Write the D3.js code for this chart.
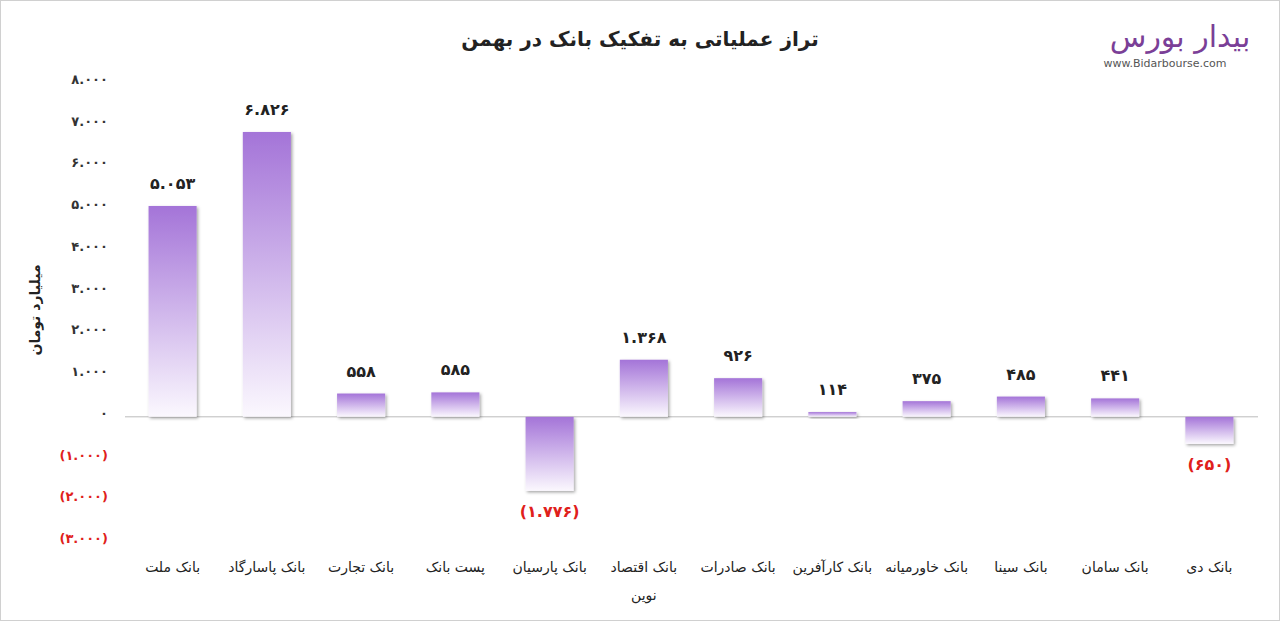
<!DOCTYPE html>
<html><head><meta charset="utf-8">
<script src="https://cdn.jsdelivr.net/npm/d3@7"></script>
<style>body{margin:0;background:#fff;font-family:"DejaVu Sans",sans-serif}</style>
</head><body><svg id="c" width="1280" height="621"></svg>
<script>
const categories = ["بانک ملت","بانک پاسارگاد","بانک تجارت","پست بانک","بانک پارسیان","بانک اقتصاد\nنوین","بانک صادرات","بانک کارآفرین","بانک خاورمیانه","بانک سینا","بانک سامان","بانک دی"];
const values = [5053,6826,558,585,-1776,1368,926,114,375,485,441,-650];
const yTicks = [8000,7000,6000,5000,4000,3000,2000,1000,0,-1000,-2000,-3000];

const fa = s => String(s).replace(/\d/g, d => "۰۱۲۳۴۵۶۷۸۹"[d]);
const fmt = v => { const s = fa(d3.format(",")(Math.abs(v)).replace(/,/g,".")); return v<0 ? "("+s+")" : s; };

const svg = d3.select("#c");
svg.append("rect").attr("x",0.5).attr("y",0.5).attr("width",1279).attr("height",620).attr("fill","#fff").attr("stroke","#d0d0d0");
const y = d3.scaleLinear().domain([-3000,8000]).range([542,83]);
const x = d3.scaleBand().domain(categories).range([125,1257]).paddingInner(0.49).paddingOuter(0.25);

const defs = svg.append("defs");
const g = defs.append("linearGradient").attr("id","gr").attr("x1",0).attr("y1",0).attr("x2",0).attr("y2",1);
g.append("stop").attr("offset","0%").attr("stop-color","#a474d8");
g.append("stop").attr("offset","100%").attr("stop-color","#fbf8fe");
const f = defs.append("filter").attr("id","sh").attr("x","-20%").attr("y","-20%").attr("width","150%").attr("height","150%");
f.append("feDropShadow").attr("dx",1.5).attr("dy",1.5).attr("stdDeviation",1.5).attr("flood-color","#000").attr("flood-opacity",0.35);

svg.append("text").attr("x",640).attr("y",46).attr("text-anchor","middle").attr("font-size",20).attr("font-weight","bold").attr("fill","#222").text("تراز عملیاتی به تفکیک بانک در بهمن");

svg.selectAll(".yt").data(yTicks).join("text").attr("x",108).attr("y",d=>y(d)+1).attr("text-anchor","end")
 .attr("font-size",13).attr("font-weight","bold").attr("fill",d=>d<0?"#e0201b":"#333").text(d=>fmt(d));

svg.append("line").attr("x1",125).attr("x2",1258).attr("y1",y(0)).attr("y2",y(0)).attr("stroke","#bbb");

svg.append("text").attr("transform","translate(40,310) rotate(-90)").attr("text-anchor","middle").attr("font-size",14).attr("font-weight","bold").attr("fill","#222").text("میلیارد تومان");

svg.selectAll(".bar").data(values).join("rect").attr("x",(d,i)=>x(categories[i])).attr("width",x.bandwidth())
 .attr("y",d=>y(Math.max(0,d))).attr("height",d=>Math.abs(y(d)-y(0))).attr("fill","url(#gr)").attr("filter","url(#sh)");

svg.selectAll(".vl").data(values).join("text").attr("x",(d,i)=>x(categories[i])+x.bandwidth()/2)
 .attr("y",d=>d>=0?y(d)-17:y(d)+26).attr("text-anchor","middle").attr("font-size",16).attr("font-weight","bold")
 .attr("fill",d=>d<0?"#e0201b":"#222").text(d=>fmt(d));

categories.forEach((c,i)=>{
  c.split("\n").forEach((ln,j)=>{
    svg.append("text").attr("x",x(c)+x.bandwidth()/2).attr("y",572+j*28).attr("text-anchor","middle")
      .attr("font-size",14).attr("fill","#222").text(ln);
  });
});

svg.append("text").attr("x",1180).attr("y",47).attr("text-anchor","middle").attr("font-size",30).attr("fill","#7b3f97").text("بیدار بورس");
svg.append("text").attr("x",1165).attr("y",67).attr("text-anchor","middle").attr("font-size",11).attr("fill","#555").text("www.Bidarbourse.com");
</script></body></html>
